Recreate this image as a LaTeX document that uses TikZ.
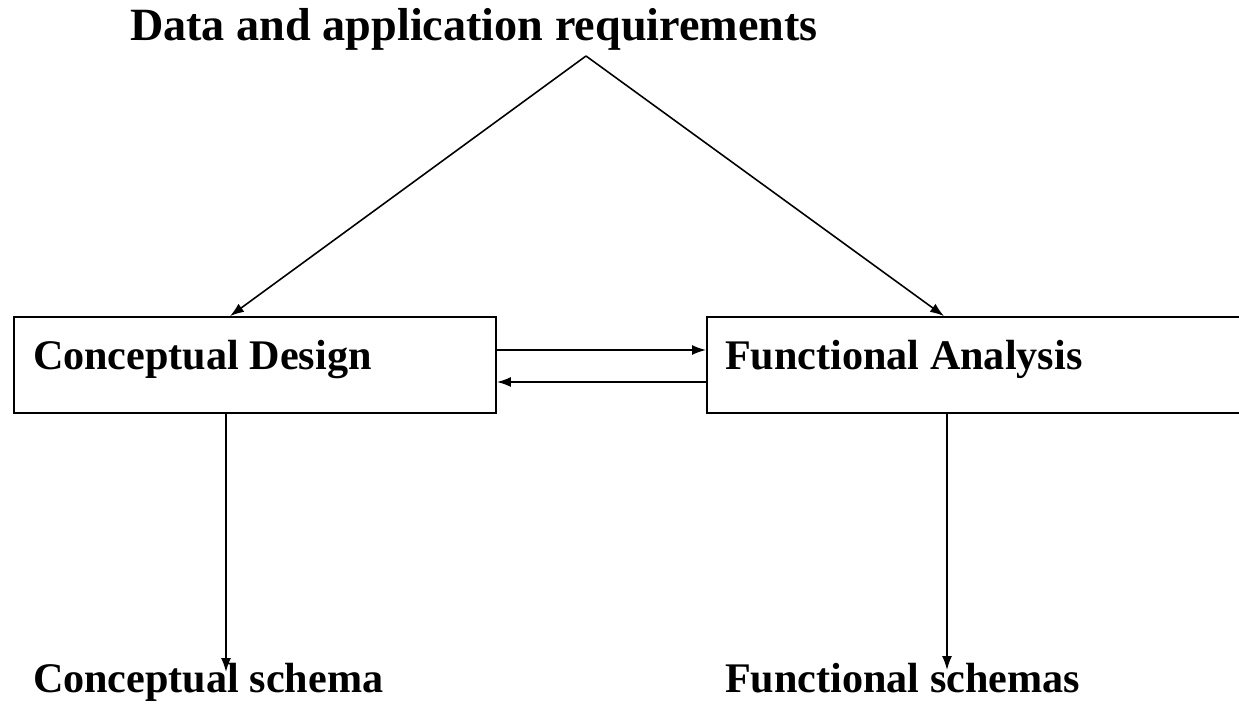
\documentclass[tikz,border=0pt]{standalone}
\usepackage{fontspec}
\setmainfont{Liberation Serif}
\usetikzlibrary{arrows.meta}
\tikzset{>={Latex[length=2.8mm,width=2mm]}}
\tikzstyle{label}=[font=\fontsize{24}{29}\selectfont\bfseries,inner sep=0,outer sep=0]
\tikzstyle{title}=[label,font=\fontsize{26.3}{31}\selectfont\bfseries]
\tikzstyle{box}=[draw,line width=1pt,minimum height=1.92cm,inner sep=0]
\tikzstyle{connect}=[line width=0.9pt,->]

\begin{document}
\begin{tikzpicture}
      \def\boxy{6.76} % middle of both boxes
      \def\outy{0.22} % baseline of outputs
    
      \useasboundingbox (0,0) rectangle (24.78,14.06);
      \clip (0,0) rectangle (24.78,14.06);
    
        % DRAW NODES
        \node[title,anchor=base] (req) at (9.48,13.24) {Data and application requirements};
        \coordinate (top) at (11.72,12.94);
        \node[box,minimum width=9.64cm] (cd) at (5.10,\boxy) {};
        \node[box,minimum width=10.8cm,anchor=west] (fa) at (14.12,\boxy) {};
        \node[label,anchor=base west] (cdt) at (0.66,6.66) {Conceptual Design};
        \node[label,anchor=base west] (fat) at (14.50,6.66) {Functional Analysis};
        \node[label,anchor=base west] (cs) at (0.66,\outy) {Conceptual schema};
        \node[label,anchor=base west] (fs) at (14.50,\outy) {Functional schemas};
        \coordinate (cse) at (4.52,0.62);
        \coordinate (fse) at (18.94,0.66);
    
        % DRAW EDGES
        \draw[connect] (top) -- (cd.north -| 4.60,0);
        \draw[connect] (top) -- (fa.north -| 18.88,0);
        \draw[connect] ([yshift=0.30cm]cd.east) -- ([yshift=0.30cm]cd.east -| fa.west);
        \draw[connect] ([yshift=-0.34cm]fa.west) -- ([yshift=-0.34cm]fa.west -| cd.east);
        \draw[connect] (cd.south -| cse) -- (cse);
        \draw[connect] (fa.south -| fse) -- (fse);
    \end{tikzpicture}
\end{document}
